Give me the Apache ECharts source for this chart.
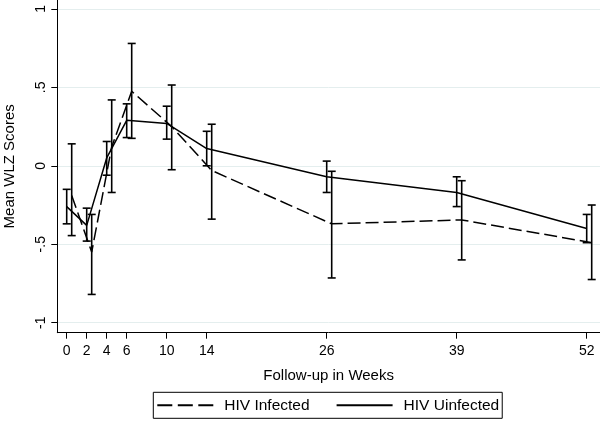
<!DOCTYPE html>
<html>
<head>
<meta charset="utf-8">
<script src="https://cdn.jsdelivr.net/npm/echarts@6/dist/echarts.min.js"></script>
<style>
html,body{margin:0;padding:0;background:#fff;}
#chart{width:600px;height:422px;}
</style>
</head>
<body>
<div id="chart"></div>
<script>
// Follow-up weeks (x tick labels)
const weeks = [0, 2, 4, 6, 10, 14, 26, 39, 52];
// HIV Uninfected (solid) : mean WLZ and 95% CI
const uninfMean = [-0.26, -0.38, 0.05, 0.29, 0.27, 0.11, -0.07, -0.17, -0.40];
const uninfLow  = [-0.37, -0.48, -0.06, 0.18, 0.17, 0.00, -0.17, -0.26, -0.49];
const uninfHigh = [-0.15, -0.27, 0.155, 0.395, 0.38, 0.22, 0.03, -0.07, -0.31];
// HIV Infected (dashed), plotted slightly offset to the right
const infWeeks = [0.5, 2.5, 4.5, 6.5, 10.5, 14.5, 26.5, 39.5, 52.5];
const infMean = [-0.19, -0.55, 0.12, 0.475, 0.25, -0.03, -0.37, -0.345, -0.49];
const infLow  = [-0.445, -0.82, -0.17, 0.175, -0.025, -0.34, -0.715, -0.60, -0.725];
const infHigh = [0.14, -0.31, 0.42, 0.78, 0.515, 0.265, -0.035, -0.095, -0.25];
// y tick values
const yTicks = [-1, -0.5, 0, 0.5, 1];

const FONT = '"Liberation Sans", Arial, Helvetica, sans-serif';

function errRender(params, api) {
  const x = api.value(0), lo = api.value(1), hi = api.value(2);
  const a = api.coord([x, lo]), b = api.coord([x, hi]);
  const hw = 4;
  const st = {stroke: '#000', lineWidth: 1.6};
  return {type: 'group', children: [
    {type: 'line', shape: {x1: a[0], y1: a[1], x2: b[0], y2: b[1]}, style: st},
    {type: 'line', shape: {x1: a[0] - hw, y1: a[1], x2: a[0] + hw, y2: a[1]}, style: st},
    {type: 'line', shape: {x1: b[0] - hw, y1: b[1], x2: b[0] + hw, y2: b[1]}, style: st}
  ]};
}

const chart = echarts.init(document.getElementById('chart'), null, {renderer: 'canvas'});
chart.setOption({
  backgroundColor: '#fff',
  animation: false,
  textStyle: {fontFamily: FONT, color: '#000'},
  grid: {left: 57.3, right: 0, top: 0, bottom: 89.3, containLabel: false, outerBoundsMode: 'none'},
  xAxis: {
    type: 'value', min: -0.94, max: 53.33,
    name: 'Follow-up in Weeks', nameLocation: 'middle', nameGap: 36,
    nameTextStyle: {fontSize: 15, color: '#000', fontFamily: FONT},
    axisLine: {show: true, onZero: false, lineStyle: {color: '#000', width: 1}},
    axisTick: {show: true, length: 6, customValues: weeks, lineStyle: {color: '#000'}},
    axisLabel: {customValues: weeks, fontSize: 14, color: '#000', margin: 11, fontFamily: FONT},
    splitLine: {show: false}
  },
  yAxis: {
    type: 'value', min: -1.064, max: 1.057,
    name: 'Mean WLZ Scores', nameLocation: 'middle', nameGap: 40, nameRotate: 90,
    nameTextStyle: {fontSize: 15, color: '#000', fontFamily: FONT},
    axisLine: {show: true, onZero: false, lineStyle: {color: '#000', width: 1}},
    axisTick: {show: true, length: 6, customValues: yTicks, lineStyle: {color: '#000'}},
    axisLabel: {
      customValues: yTicks, rotate: 90, fontSize: 14, color: '#000', margin: 9, fontFamily: FONT,
      formatter: function (v) { return String(v).replace('0.', '.'); }
    },
    splitLine: {show: true, lineStyle: {color: '#e4eeee', width: 1}}
  },
  legend: {
    data: [
      {name: 'HIV Infected', lineStyle: {type: [15, 5.5]}},
      {name: 'HIV Uinfected'}
    ],
    left: 153.3, top: 392.3,
    orient: 'horizontal',
    padding: [5, 3, 5, 3],
    borderColor: '#000', borderWidth: 1,
    itemWidth: 56, itemHeight: 14, itemGap: 26,
    itemStyle: {color: 'rgba(0,0,0,0)', borderWidth: 0, opacity: 0},
    textStyle: {fontSize: 15.5, color: '#000', fontFamily: FONT, padding: [0, 0, 0, 6]}
  },
  series: [
    {
      name: 'HIV Infected', type: 'line', symbol: 'none', z: 3,
      data: infWeeks.map((w, i) => [w, infMean[i]]),
      lineStyle: {color: '#000', width: 1.5, type: [13, 5]},
      itemStyle: {color: '#000'}
    },
    {
      name: 'HIV Uinfected', type: 'line', symbol: 'none', z: 3,
      data: weeks.map((w, i) => [w, uninfMean[i]]),
      lineStyle: {color: '#000', width: 1.5, type: 'solid'},
      itemStyle: {color: '#000'}
    },
    {
      name: 'infCI', type: 'custom', renderItem: errRender, z: 4,
      encode: {x: 0, y: [1, 2]},
      data: infWeeks.map((w, i) => [w, infLow[i], infHigh[i]])
    },
    {
      name: 'uninfCI', type: 'custom', renderItem: errRender, z: 4,
      encode: {x: 0, y: [1, 2]},
      data: weeks.map((w, i) => [w, uninfLow[i], uninfHigh[i]])
    }
  ]
});
</script>
</body>
</html>
